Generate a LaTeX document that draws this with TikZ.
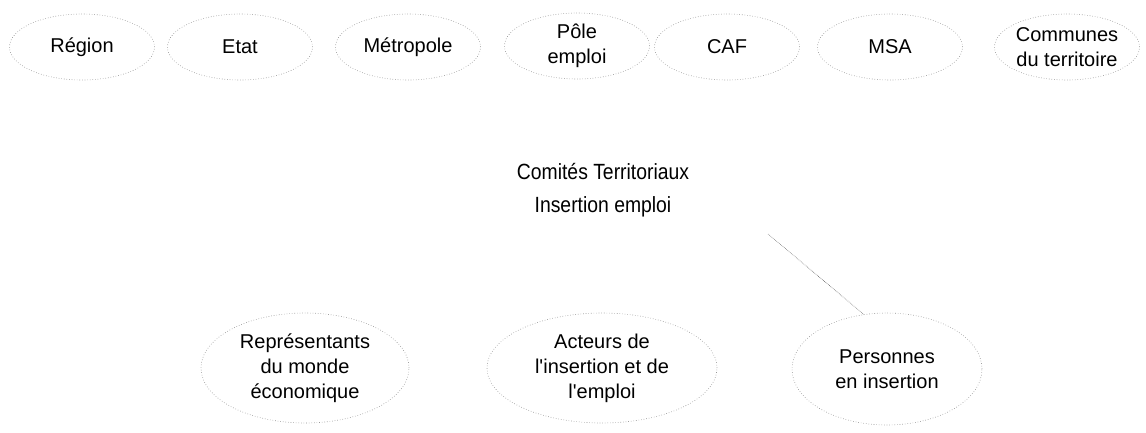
\documentclass[tikz,border=0pt]{standalone}
\usepackage{fontspec}
\setmainfont[Ligatures=TeXOff]{Liberation Sans}
\newfontfamily\condfont[FakeStretch=0.88,Ligatures=TeXOff]{Liberation Sans}
\usetikzlibrary{shapes.geometric}
\begin{document}
\begin{tikzpicture}[x=1pt,y=-1pt,
  oval/.style={ellipse, draw=black!45, dotted, line width=0.6pt, inner sep=0pt,
    align=center, font=\fontsize{20}{25}\selectfont, text=black},
  topoval/.style={oval, minimum width=145pt, minimum height=66pt},
  link/.style={draw=black!60, densely dotted, line width=0.6pt}]
\useasboundingbox (0,0) rectangle (1146,432);
\node[topoval] (reg) at (82,47) {Région};
\node[topoval] (etat) at (240,47) {Etat};
\node[topoval] (metro) at (408,47) {Métropole};
\node[topoval] (pole) at (577,46) {Pôle\\emploi};
\node[topoval] (caf) at (727,47) {CAF};
\node[topoval] (msa) at (890,47) {MSA};
\node[topoval] (comm) at (1067,47) {Communes\\du territoire};
\node[align=center, font=\condfont\fontsize{22}{33}\selectfont] (ctie) at (603,190) {Comités Territoriaux\\Insertion emploi};
\node[oval, minimum width=208pt, minimum height=110pt] (rep) at (305,368) {Représentants\\du monde\\économique};
\node[oval, minimum width=230pt, minimum height=110pt] (act) at (602,368) {Acteurs de\\l'insertion et de\\l'emploi};
\node[oval, minimum width=190pt, minimum height=112pt] (pers) at (887,369) {Personnes\\en insertion};
\coordinate (cstart) at (768,234);
\draw[link] (cstart) -- (pers.113);
\end{tikzpicture}
\end{document}
